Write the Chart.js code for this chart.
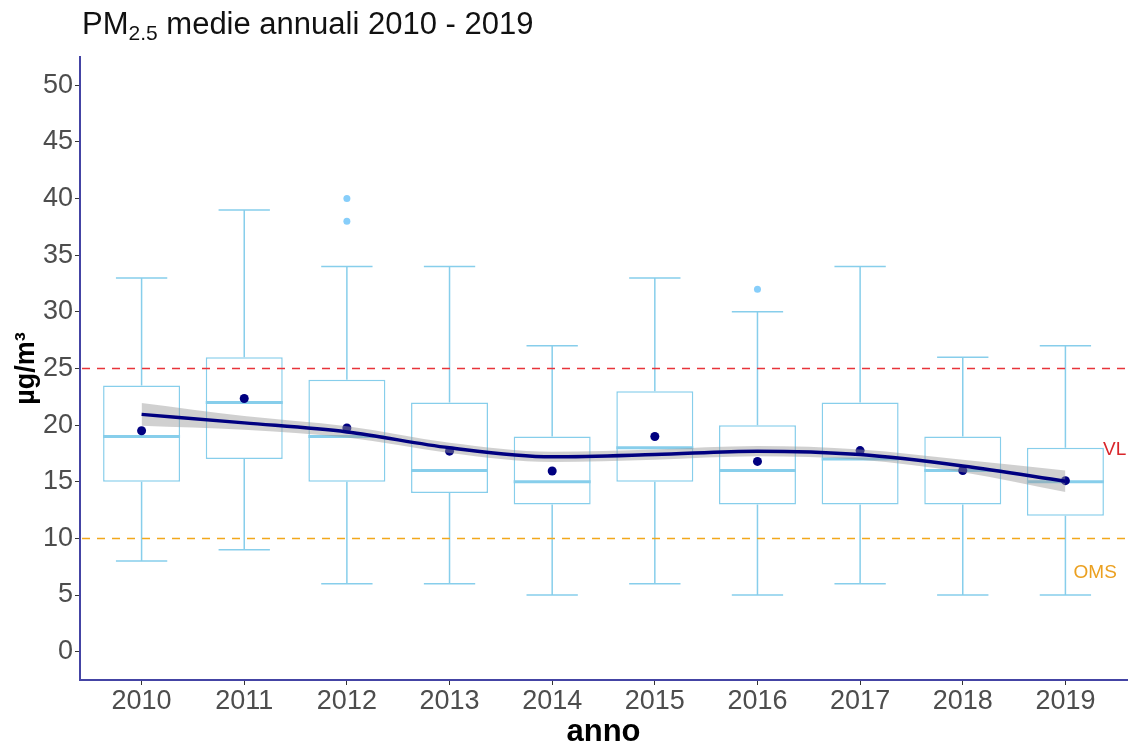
<!DOCTYPE html>
<html>
<head>
<meta charset="utf-8">
<script src="https://cdn.jsdelivr.net/npm/chart.js@4.4.1/dist/chart.umd.min.js"></script>
<style>
  html, body { margin: 0; padding: 0; background: #fff; }
  #wrap { position: relative; width: 1138px; height: 745px; }
  #title { position: absolute; left: 82px; top: 6px; font: 31px "Liberation Sans", Arial, sans-serif; color: #111; line-height: 36px; }
  #title sub { font-size: 21px; vertical-align: -6px; line-height: 0; }
</style>
</head>
<body>
<div id="wrap">
  <div id="title">PM<sub>2.5</sub> medie annuali 2010 - 2019</div>
  <canvas id="chart" width="1138" height="745"></canvas>
</div>
<script>
// values, one per year
const years = ['2010', '2011', '2012', '2013', '2014', '2015', '2016', '2017', '2018', '2019'];
const q1 = [15, 17, 15, 14, 13, 15, 13, 13, 13, 12];
const medians = [19, 22, 19, 16, 15, 18, 16, 17, 16, 15];
const q3 = [23.5, 26, 24, 22, 19, 23, 20, 22, 19, 18];
const whiskerLow = [8, 9, 6, 6, 5, 6, 5, 6, 5, 5];
const whiskerHigh = [33, 39, 34, 34, 27, 33, 30, 34, 26, 27];
const outliers = [[], [], [40, 38], [], [], [], [32], [], [], []];
const means = [19.5, 22.35, 19.75, 17.7, 15.95, 19.0, 16.8, 17.75, 16.0, 15.1];

// loess trend and its confidence band
const smooth = [20.95, 20.2, 19.4, 18.0, 17.2, 17.4, 17.7, 17.4, 16.4, 15.05];
const smoothLow = [19.95, 19.6, 18.9, 17.55, 16.75, 16.95, 17.25, 16.95, 15.85, 14.1];
const smoothHigh = [21.95, 20.8, 19.9, 18.45, 17.65, 17.85, 18.15, 17.85, 16.95, 16.0];

// reference limits
const limitVL = 25;
const limitOMS = 10;
const yTicks = [0, 5, 10, 15, 20, 25, 30, 35, 40, 45, 50];

const boxColor = '#87CEEB';
const navy = '#000080';
const axisColor = '#4444a4';
const font = '"Liberation Sans", Arial, sans-serif';

const toPoints = (arr) => arr.map((v, i) => ({ x: i, y: v }));

// whiskers, medians and the two dashed limit lines go right after the boxes
const boxExtras = {
  id: 'boxExtras',
  afterDatasetDraw(chart, args) {
    if (args.meta.type !== 'bar') return;
    const ctx = chart.ctx;
    const xs = chart.scales.x, ys = chart.scales.y;
    const step = xs.getPixelForValue(1) - xs.getPixelForValue(0);
    const capHalf = step * 0.25;
    const boxHalf = step * 0.375;
    ctx.save();
    ctx.strokeStyle = boxColor;
    years.forEach((_, i) => {
      const cx = xs.getPixelForValue(i);
      ctx.lineWidth = 1.5;
      ctx.beginPath();
      ctx.moveTo(cx, ys.getPixelForValue(q3[i]));
      ctx.lineTo(cx, ys.getPixelForValue(whiskerHigh[i]));
      ctx.moveTo(cx - capHalf, ys.getPixelForValue(whiskerHigh[i]));
      ctx.lineTo(cx + capHalf, ys.getPixelForValue(whiskerHigh[i]));
      ctx.moveTo(cx, ys.getPixelForValue(q1[i]));
      ctx.lineTo(cx, ys.getPixelForValue(whiskerLow[i]));
      ctx.moveTo(cx - capHalf, ys.getPixelForValue(whiskerLow[i]));
      ctx.lineTo(cx + capHalf, ys.getPixelForValue(whiskerLow[i]));
      ctx.stroke();
      ctx.lineWidth = 3;
      ctx.beginPath();
      ctx.moveTo(cx - boxHalf, ys.getPixelForValue(medians[i]));
      ctx.lineTo(cx + boxHalf, ys.getPixelForValue(medians[i]));
      ctx.stroke();
    });
    const area = chart.chartArea;
    ctx.setLineDash([8, 7]);
    ctx.lineWidth = 1.5;
    [[limitVL, '#e8343a'], [limitOMS, '#f2a81c']].forEach(([v, c]) => {
      const y = ys.getPixelForValue(v);
      ctx.strokeStyle = c;
      ctx.beginPath();
      ctx.moveTo(area.left + 2, y);
      ctx.lineTo(area.right - 2, y);
      ctx.stroke();
    });
    ctx.restore();
  },
  afterDatasetsDraw(chart) {
    const ctx = chart.ctx;
    const xs = chart.scales.x, ys = chart.scales.y;
    ctx.save();
    ctx.font = '19px ' + font;
    ctx.textAlign = 'center';
    ctx.textBaseline = 'middle';
    ctx.fillStyle = '#d9262b';
    ctx.fillText('VL', xs.getPixelForValue(9.48), ys.getPixelForValue(17.8));
    ctx.fillStyle = '#eba020';
    ctx.fillText('OMS', xs.getPixelForValue(9.29), ys.getPixelForValue(7));
    ctx.restore();
  }
};

const outlierPoints = [];
outliers.forEach((vals, i) => vals.forEach(v => outlierPoints.push({ x: i, y: v })));

new Chart(document.getElementById('chart'), {
  type: 'bar',
  data: {
    datasets: [
      {
        type: 'bar',
        data: years.map((_, i) => ({ x: i, y: [q1[i], q3[i]] })),
        backgroundColor: '#ffffff',
        borderColor: boxColor,
        borderWidth: 1.5,
        borderSkipped: false,
        barPercentage: 0.75,
        categoryPercentage: 1.0,
        order: 6
      },
      {
        type: 'scatter',
        data: outlierPoints,
        backgroundColor: '#87CEFA',
        borderWidth: 0,
        pointRadius: 3.5,
        order: 5
      },
      {
        type: 'scatter',
        data: toPoints(means),
        backgroundColor: navy,
        borderWidth: 0,
        pointRadius: 4.5,
        order: 4
      },
      {
        type: 'line',
        data: toPoints(smoothHigh),
        borderWidth: 0,
        pointRadius: 0,
        cubicInterpolationMode: 'monotone',
        fill: '+1',
        backgroundColor: 'rgba(150,150,150,0.45)',
        order: 3
      },
      {
        type: 'line',
        data: toPoints(smoothLow),
        borderWidth: 0,
        pointRadius: 0,
        cubicInterpolationMode: 'monotone',
        fill: false,
        order: 3
      },
      {
        type: 'line',
        data: toPoints(smooth),
        borderColor: navy,
        borderWidth: 3.5,
        pointRadius: 0,
        cubicInterpolationMode: 'monotone',
        fill: false,
        order: 1
      }
    ]
  },
  options: {
    responsive: false,
    animation: false,
    layout: { padding: { top: 57, right: 11, left: 0, bottom: 0 } },
    plugins: {
      legend: { display: false },
      tooltip: { enabled: false }
    },
    scales: {
      x: {
        type: 'linear',
        min: -0.6,
        max: 9.6,
        offset: false,
        afterBuildTicks: (scale) => { scale.ticks = years.map((_, i) => ({ value: i })); },
        afterFit: (scale) => { scale.height = 65; },
        border: { color: axisColor, width: 2 },
        grid: { offset: false, drawOnChartArea: false, drawTicks: true, tickLength: 5, color: '#333', tickColor: '#333' },
        ticks: {
          color: '#4d4d4d',
          font: { family: font, size: 27 },
          padding: 0,
          maxRotation: 0,
          callback: (v) => years[v]
        },
        title: {
          display: true,
          text: 'anno',
          color: '#000',
          font: { family: font, size: 31, weight: 'bold' },
          padding: { top: 0, bottom: -6 }
        }
      },
      y: {
        min: -2.5,
        max: 52.5,
        afterBuildTicks: (scale) => { scale.ticks = yTicks.map(v => ({ value: v })); },
        afterFit: (scale) => { scale.width = 80; },
        border: { color: axisColor, width: 2 },
        grid: { drawOnChartArea: false, drawTicks: true, tickLength: 5, color: '#333', tickColor: '#333' },
        ticks: {
          color: '#4d4d4d',
          font: { family: font, size: 27 },
          padding: 2
        },
        title: {
          display: true,
          text: 'µg/m³',
          color: '#000',
          font: { family: font, size: 27, weight: 'bold' },
          padding: { top: 10, bottom: 0 }
        }
      }
    }
  },
  plugins: [boxExtras]
});
</script>
</body>
</html>
